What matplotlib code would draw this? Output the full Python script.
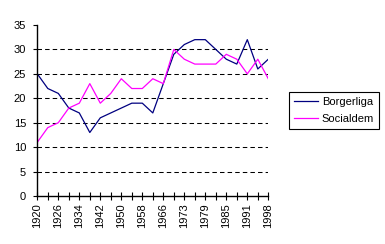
import numpy as np
import matplotlib.pyplot as plt

plt.rcParams['font.family'] = ['Liberation Sans', 'DejaVu Sans']

# election years (only every second one is labelled on the axis)
years = [1920, 1923, 1926, 1930, 1934, 1938, 1942, 1946, 1950, 1954, 1958, 1962,
         1966, 1969, 1973, 1976, 1979, 1982, 1985, 1988, 1991, 1994, 1998]
borgerliga = [25, 22, 21, 18, 17, 13, 16, 17, 18, 19, 19, 17,
              23, 29, 31, 32, 32, 30, 28, 27, 32, 26, 28]
socialdem = [11, 14, 15, 18, 19, 23, 19, 21, 24, 22, 22, 24,
             23, 30, 28, 27, 27, 27, 29, 28, 25, 28, 24]

W, H = 385, 244
fig = plt.figure(figsize=(W / 100, H / 100), dpi=100)
ax = fig.add_axes([37.3 / W, 1 - 196 / H, (268.3 - 37.3) / W, (196 - 25) / H])

x = np.arange(len(years))
ax.plot(x, borgerliga, color='#000080', lw=0.9, label='Borgerliga')
ax.plot(x, socialdem, color='#FF00FF', lw=0.9, label='Socialdem')

ax.set_xlim(0, len(years) - 1)
ax.set_ylim(0, 35)
ax.set_yticks(range(0, 36, 5))
ax.set_xticks(x[::2])
ax.set_xticklabels([str(y) for y in years[::2]], rotation=90)
ax.set_xticks(x, minor=True)

for s in ['top', 'right']:
    ax.spines[s].set_visible(False)
for s in ['left', 'bottom']:
    ax.spines[s].set_linewidth(1.0)
    ax.spines[s].set_color('black')

ax.tick_params(axis='x', which='both', direction='inout', length=6, width=0.8,
               labelsize=8, pad=2)
ax.tick_params(axis='y', direction='out', length=3, width=0.8, labelsize=8, pad=5)

ax.yaxis.grid(True, color='black', linestyle=(0, (4.3, 3)), linewidth=0.75)
ax.set_axisbelow(True)
gl = ax.get_ygridlines()
gl[0].set_visible(False)
gl[-1].set_visible(False)

leg = ax.legend(loc='upper left', bbox_to_anchor=(289 / W, 1 - 92 / H),
                bbox_transform=fig.transFigure, fontsize=8, frameon=True,
                fancybox=False, framealpha=1, edgecolor='black', borderaxespad=0,
                handlelength=2.2, handletextpad=0.3, borderpad=0.45, labelspacing=0.6)
leg.get_frame().set_linewidth(0.8)

fig.savefig('out.png', dpi=100)
